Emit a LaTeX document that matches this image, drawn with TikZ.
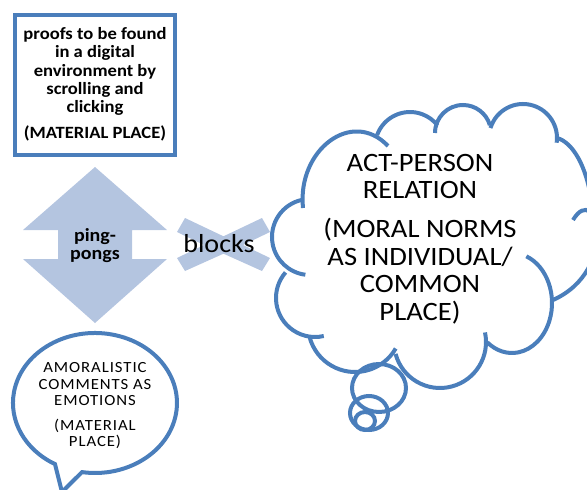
\documentclass[tikz,border=0pt]{standalone}
\usepackage{fontspec}
\setmainfont[FakeStretch=1.08]{Carlito}
\definecolor{bubbleblue}{RGB}{74,126,187}
\definecolor{arrowblue}{RGB}{180,197,224}
\tikzset{
  edge/.style={draw=bubbleblue, line width=4pt},
  shapefill/.style={fill=arrowblue, draw=none},
}
\begin{document}
\begin{tikzpicture}[x=1pt,y=-1pt]
\useasboundingbox (0,0) rectangle (587,490);
\clip (0,0) rectangle (587,490);
% top box
\node[edge, minimum width=160pt, minimum height=140pt, inner sep=0pt, align=center,
      font=\bfseries\fontsize{17.2}{18.3}\selectfont] (box) at (95,84.5)
  {proofs to be found\\in a digital\\environment by\\scrolling and\\clicking\\[7.7pt](MATERIAL PLACE)};
% up-down arrow
\fill[shapefill] (95,167) -- (167,230) -- (132,230) -- (132,259) -- (167,259) -- (95,323)
  -- (23,259) -- (58,259) -- (58,230) -- (23,230) -- cycle;
\node[font=\bfseries\fontsize{18.5}{18}\selectfont, align=center] (ping) at (95,246) {ping-\\pongs};
% multiply sign
\fill[shapefill] (185,218) -- (223.5,236.3) -- (262,218) -- (270,232) -- (243,245) -- (270,258)
  -- (262,271) -- (223.5,253.7) -- (185,271) -- (177,258) -- (204,245) -- (177,232) -- cycle;
\node[font=\fontsize{26}{30}\selectfont] (blocks) at (219,244) {blocks};
% cloud
\draw[edge] (303,208) .. controls (297,150) and (352,108) .. (388,146);
\draw[edge] (410,147) ++(200:35) arc[start angle=200,end angle=322,radius=35];
\draw[edge] (463,133) ++(180:28) arc[start angle=180,end angle=343.5,radius=28];
\draw[edge] (523,138) ++(197:34) arc[start angle=197,end angle=368,radius=34];
\draw[edge] (557,138) .. controls (572,142) and (587,165) .. (592,205);
\draw[edge] (573,220) .. controls (597,180) and (620,270) .. (553,300);
\draw[edge] (512,303) ++(-69:40 and 50) arc[start angle=-69,end angle=128,x radius=40,y radius=50];
\draw[edge] (440,342) ++(165:46) arc[start angle=165,end angle=-12,radius=46];
\draw[edge] (355,325) ++(165:47) arc[start angle=165,end angle=30,radius=47];
\draw[edge] (315,298) ++(221:39) arc[start angle=221,end angle=77,radius=39];
\draw[edge] (310,237) ++(259:38) arc[start angle=259,end angle=97,radius=38];
\draw[edge] (379,388) ellipse [x radius=27, y radius=24];
\draw[edge] (369,413) ellipse [x radius=19, y radius=17];
\draw[edge] (365,421) ellipse [x radius=10, y radius=9];
\node[font=\fontsize{26.5}{27.5}\selectfont, align=center] (act) at (420,239)
  {ACT-PERSON\\RELATION\\[11.5pt](MORAL NORMS\\AS INDIVIDUAL/\\COMMON\\PLACE)};
% speech bubble
\draw[edge, line join=miter] (62,492) -- (82,472.1)
  arc[start angle=99.1, end angle=-240.8, x radius=82, y radius=70] -- cycle;
\node[font=\fontsize{15.5}{16.5}\selectfont\addfontfeature{LetterSpace=6}, align=center] (amor) at (95,406)
  {AMORALISTIC\\COMMENTS AS\\EMOTIONS\\[8pt](MATERIAL\\PLACE)};
\end{tikzpicture}
\end{document}
